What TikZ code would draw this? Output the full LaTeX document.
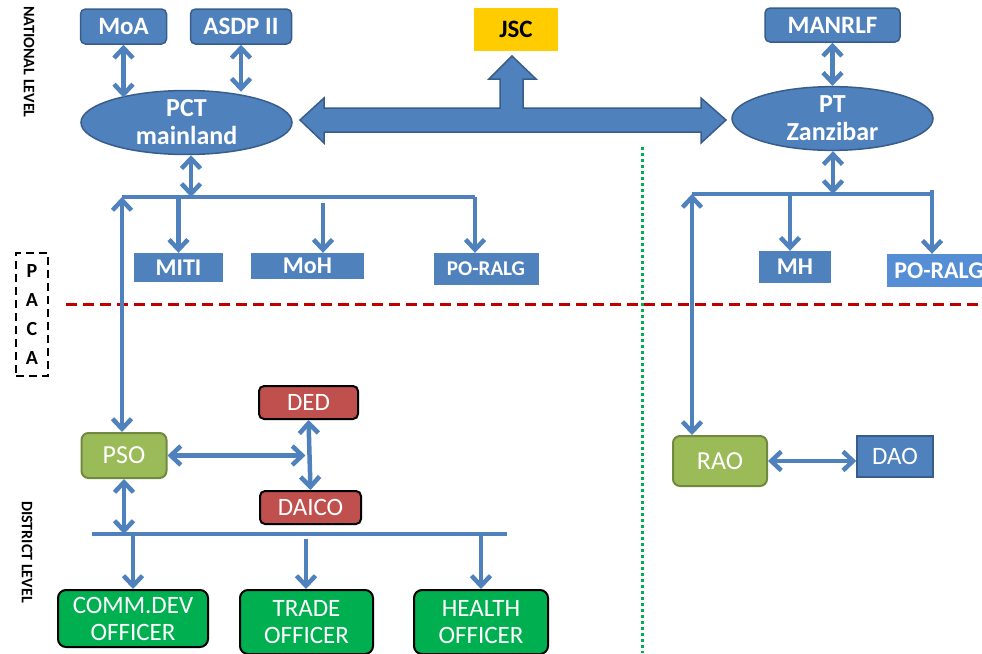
\documentclass[tikz,border=0pt]{standalone}
\usepackage{fontspec}
\setmainfont{Carlito}
\usetikzlibrary{arrows.meta,shapes.geometric,calc}
\definecolor{bl}{HTML}{4F81BD}
\definecolor{bd}{HTML}{385D8A}
\definecolor{bl2}{HTML}{558ED5}
\definecolor{jsc}{HTML}{FFCC00}
\definecolor{gr}{HTML}{9BBB59}
\definecolor{grd}{HTML}{71893F}
\definecolor{rd}{HTML}{C0504D}
\definecolor{og}{HTML}{00B050}
\definecolor{dred}{HTML}{C00000}
\tikzset{
  topbox/.style={draw=bd, fill=bl, line width=1.5pt, rounded corners=5pt, text=white, inner sep=0pt, font=\bfseries\fontsize{25}{29}\selectfont},
  flatbox/.style={fill=bl, text=white, inner sep=0pt, font=\bfseries\fontsize{24}{28}\selectfont},
  ell/.style={ellipse, draw=bd, fill=bl, line width=1.5pt, text=white, inner sep=0pt, align=center, font=\bfseries\fontsize{26}{28}\selectfont},
  greenbox/.style={draw=grd, fill=gr, line width=2pt, rounded corners=7pt, text=white, inner sep=0pt, font=\fontsize{26}{29}\selectfont},
  redbox/.style={draw=black, fill=rd, line width=2pt, rounded corners=5pt, text=white, inner sep=0pt, font=\fontsize{25}{29}\selectfont},
  offbox/.style={draw=black, fill=og, line width=2pt, rounded corners=8pt, text=white, inner sep=0pt, align=center, font=\fontsize{25}{27}\selectfont},
  conn/.style={draw=bl, line width=4.5pt},
  tip/.tip={Straight Barb[length=10pt,width=19pt]},
  arr/.style={conn, -tip},
  dbl/.style={conn, tip-tip},
  lvl/.style={rotate=-90, font=\bfseries\fontsize{16}{18}\selectfont},
}
\begin{document}
\begin{tikzpicture}[x=1pt,y=-1pt]
\useasboundingbox (0,0) rectangle (982,653);

% separators
\draw[dred, line width=3pt, dash pattern=on 11pt off 6pt] (66,304) -- (982,304);
\draw[og, line width=3pt, dash pattern=on 3pt off 3pt] (642,147) -- (642,653);

% level labels
\node[lvl] (nat) at (29,62) {NATIONAL LEVEL};
\node[lvl] (dist) at (27,552) {DISTRICT LEVEL};
\node[draw=black, line width=2pt, dash pattern=on 8pt off 5pt, minimum width=32pt, minimum height=123pt, inner sep=0pt, align=center, font=\bfseries\fontsize{20}{28.7}\selectfont] (paca) at (32,314.5) {P\\A\\C\\A};

% national level nodes
\node[topbox, minimum width=86pt, minimum height=35pt] (moa) at (123.5,26.5) {MoA};
\node[topbox, minimum width=101pt, minimum height=35pt] (asdp) at (241,26.5) {ASDP II};
\node[fill=jsc, minimum width=84pt, minimum height=43pt, inner sep=0pt, font=\bfseries\fontsize{25}{29}\selectfont] (jsc) at (516,29.5) {JSC};
\node[topbox, minimum width=135pt, minimum height=34pt] (manrlf) at (832.5,25) {MANRLF};
\node[ell, minimum width=211pt, minimum height=63pt] (pct) at (186.5,122.5) {PCT\\mainland};
\node[ell, minimum width=201pt, minimum height=57pt] (pt) at (832.5,118.5) {PT\\Zanzibar};

% big three-way arrow
\filldraw[fill=bl, draw=bd, line width=1.5pt, line join=miter]
  (300,120) -- (324,98) -- (324,108) -- (500,108) -- (500,79) -- (489,79) -- (512,56)
  -- (536,79) -- (523,79) -- (523,108) -- (701,108) -- (701,98) -- (726,120)
  -- (701,143) -- (701,132) -- (324,132) -- (324,143) -- cycle;

% PACA level boxes
\node[flatbox, minimum width=89pt, minimum height=29pt] (miti) at (178.5,267.5) {MITI};
\node[flatbox, minimum width=113pt, minimum height=26pt] (moh) at (307.5,266) {MoH};
\node[flatbox, font=\bfseries\fontsize{21}{25}\selectfont, minimum width=105pt, minimum height=32pt] (poral) at (486,269) {PO-RALG};
\node[flatbox, minimum width=72pt, minimum height=32pt] (mh) at (795,267) {MH};
\node[flatbox, fill=bl2, minimum width=105pt, minimum height=33pt] (porar) at (939,270.5) {PO-RALG};

% district nodes
\node[greenbox, minimum width=85pt, minimum height=45pt] (pso) at (124,455.5) {PSO};
\node[redbox, minimum width=99pt, minimum height=33pt] (ded) at (308.5,402.5) {DED};
\node[redbox, minimum width=101pt, minimum height=33pt] (daico) at (310.5,507.5) {DAICO};
\node[greenbox, minimum width=94pt, minimum height=50pt] (rao) at (720,461) {RAO};
\node[draw=bd, fill=bl, line width=1.5pt, text=white, inner sep=0pt, minimum width=76pt, minimum height=41pt, font=\fontsize{25}{29}\selectfont] (dao) at (895,456.5) {DAO};
\node[offbox, minimum width=150pt, minimum height=57pt] (comm) at (133,618.5) {COMM.DEV\\OFFICER};
\node[offbox, minimum width=133pt, minimum height=64pt] (trade) at (306.5,622) {TRADE\\OFFICER};
\node[offbox, minimum width=134pt, minimum height=64pt] (health) at (481,622) {HEALTH\\OFFICER};

% bus coordinates
\coordinate (bLw) at (122,197);
\coordinate (bLe) at (475,197);
\coordinate (bLm) at (191,197);
\coordinate (mohTop) at (323,203);
\coordinate (bRw) at (692,194);
\coordinate (bRe) at (932,194);
\coordinate (bRm) at (833,194);
\coordinate (mhTop) at (790,194);
\coordinate (bBw) at (92,534);
\coordinate (bBe) at (507,534);
\coordinate (tradeTop) at (306,539);

% national connectors
\draw[dbl] (moa.south) -- (moa.south |- pct.160);
\draw[dbl] (asdp.south) -- (asdp.south |- pct.40);
\draw[dbl] (manrlf.south) -- (pt.north);
\draw[dbl] (pct.south -| bLm) -- (bLm);
\draw[dbl] (pt.south -| bRm) -- (bRm);

% left bus
\draw[conn] (bLw) -- (bLe);
\draw[arr] (miti.north |- bLw) -- (miti.north);
\draw[arr] (mohTop) -- (mohTop |- moh.north);
\draw[arr] (bLe) -- (bLe |- poral.north);
\draw[dbl] (bLw) -- (bLw |- pso.north);

% right bus
\draw[conn] (bRw) -- (bRe);
\draw[arr] (mhTop) -- (mhTop |- mh.north);
\draw[arr] ([yshift=4pt]bRe) -- (bRe |- porar.north);
\draw[dbl] (bRw) -- (bRw |- rao.north);
\draw[dbl] (rao.east) -- (rao.east -| dao.west);

% district connectors
\draw[dbl] (ded.south) -- (daico.north);
\draw[dbl, shorten >=3pt] (pso.east) -- (pso.east -| ded.south);
\draw[dbl] (pso.south) -- (pso.south |- bBw);
\draw[conn] (bBw) -- (bBe);
\draw[arr] (comm.north |- bBw) -- (comm.north);
\draw[arr] (tradeTop) -- (tradeTop |- trade.north);
\draw[arr] (health.north |- bBw) -- (health.north);
\end{tikzpicture}
\end{document}
